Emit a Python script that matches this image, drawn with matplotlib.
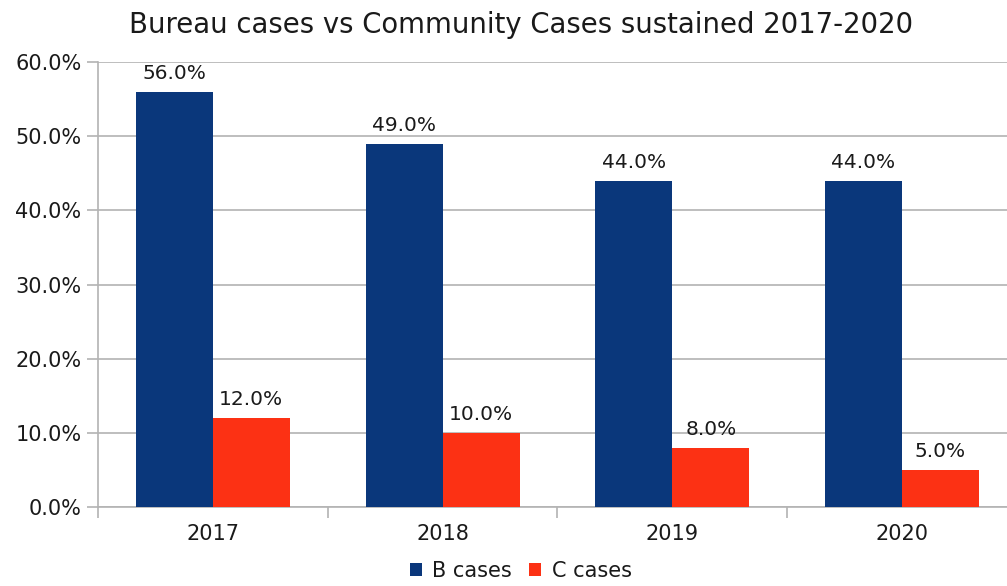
import matplotlib.pyplot as plt
import numpy as np
from matplotlib.ticker import FuncFormatter, FixedLocator

years = ["2017", "2018", "2019", "2020"]
b_cases = [56.0, 49.0, 44.0, 44.0]
c_cases = [12.0, 10.0, 8.0, 5.0]

blue = "#0a377b"
red = "#fc3114"
grid_col = "#b3b3b3"
text_col = "#1a1a1a"

plt.rcParams['font.family'] = ['DejaVu Sans']

fig = plt.figure(figsize=(10.07, 5.86), dpi=100)
ax = fig.add_axes([0.0973, 0.1348, 0.9027, 0.7594])

x = np.arange(len(years))
w = 0.335
bars_b = ax.bar(x - w / 2, b_cases, w, color=blue, label="B cases", zorder=3)
bars_c = ax.bar(x + w / 2, c_cases, w, color=red, label="C cases", zorder=3)

for bars, vals in ((bars_b, b_cases), (bars_c, c_cases)):
    for rect, v in zip(bars, vals):
        ax.text(rect.get_x() + rect.get_width() / 2, v + 1.2, f"{v:.1f}%",
                ha="center", va="bottom", fontsize=14.5, color=text_col)

ax.set_xlim(-0.5, 3.457)
ax.set_ylim(0, 60)
ax.set_yticks(np.arange(0, 61, 10))
ax.yaxis.set_major_formatter(FuncFormatter(lambda v, p: f"{v:.1f}%"))
ax.yaxis.grid(True, color=grid_col, linewidth=1.2, zorder=0)

# category labels centred, ticks on the boundaries
ax.set_xticks(x)
ax.set_xticklabels(years)
ax.xaxis.set_minor_locator(FixedLocator(np.arange(-0.5, 3.0, 1.0)))
ax.tick_params(axis="x", which="major", length=0, pad=12, labelsize=15,
               labelcolor=text_col)
ax.tick_params(axis="x", which="minor", length=8, color=grid_col, width=1.2)
ax.tick_params(axis="y", length=8, color=grid_col, width=1.2, pad=4,
               labelsize=15, labelcolor=text_col)

for s in ("top", "right"):
    ax.spines[s].set_visible(False)
for s in ("left", "bottom"):
    ax.spines[s].set_color(grid_col)
    ax.spines[s].set_linewidth(1.2)

ax.set_title("Bureau cases vs Community Cases sustained 2017-2020",
             fontsize=19.8, pad=21, x=0.465, color=text_col)

ax.legend(loc="center", bbox_to_anchor=(0.465, -0.143), ncol=2, frameon=False,
          fontsize=15, handlelength=0.6, handleheight=0.6, handletextpad=0.5,
          columnspacing=0.8, labelcolor=text_col)

fig.savefig("out.png", dpi=100)
